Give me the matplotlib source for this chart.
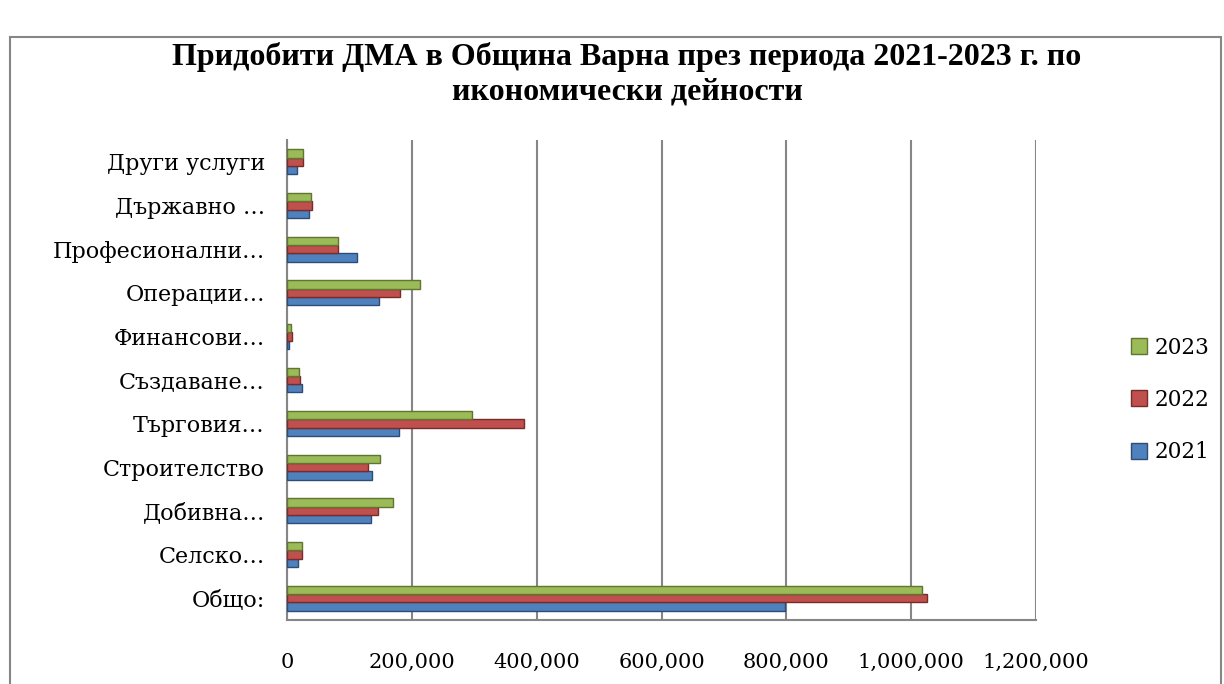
import numpy as np
import matplotlib.pyplot as plt
from matplotlib.patches import Rectangle
from matplotlib.lines import Line2D

categories = ['Общо:', 'Селско…', 'Добивна…', 'Строителство', 'Търговия…',
              'Създаване…', 'Финансови…', 'Операции…', 'Професионални…',
              'Държавно …', 'Други услуги']
v2021 = [797600, 17000, 134200, 135800, 179000, 23500, 3700, 147000, 111800, 34800, 15500]
v2022 = [1026000, 23500, 145400, 129400, 380000, 20300, 7500, 180700, 81000, 39500, 26000]
v2023 = [1017000, 23500, 169500, 148600, 296000, 18700, 6000, 212800, 81000, 39000, 26000]
xticks = [0, 200000, 400000, 600000, 800000, 1000000, 1200000]

blue, red, green = '#4F81BD', '#C0504D', '#9BBB59'
dark = {'b': '#2C4D75', 'r': '#772C2A', 'g': '#5F7530'}
label_font = ['DejaVu Serif']
title_font = ['Liberation Serif', 'DejaVu Serif']

fig = plt.figure(figsize=(12.24, 6.84), dpi=100)
fig.patches.append(Rectangle((10 / 1224, -0.05), 1211 / 1224, 1 - 37 / 684 + 0.05,
                             transform=fig.transFigure, fill=False,
                             edgecolor='#868686', linewidth=1.5))
ax = fig.add_axes([287 / 1224, 1 - 620 / 684, (1036 - 287) / 1224, 480 / 684])

y = np.arange(len(categories))
h = 0.19
ax.barh(y - h, v2021, height=h, color=blue, edgecolor=dark['b'], linewidth=1, label='2021', zorder=3)
ax.barh(y, v2022, height=h, color=red, edgecolor=dark['r'], linewidth=1, label='2022', zorder=3)
ax.barh(y + h, v2023, height=h, color=green, edgecolor=dark['g'], linewidth=1, label='2023', zorder=3)

ax.set_ylim(-0.5, len(categories) - 0.5)
ax.set_xlim(0, 1200000)
ax.set_yticks(y)
ax.set_yticklabels(categories, family=label_font, fontsize=16)
ax.set_xticks(xticks)
ax.set_xticklabels([f'{t:,}' for t in xticks], family=label_font, fontsize=15)
ax.tick_params(axis='x', length=0, pad=24)
ax.tick_params(axis='y', length=0, pad=16)
ax.grid(axis='x', color='#868686', linewidth=1.5, zorder=0)
for s in ['top', 'right']:
    ax.spines[s].set_visible(False)
for s in ['left', 'bottom']:
    ax.spines[s].set_color('#868686')
    ax.spines[s].set_linewidth(1.5)

fig.text(627 / 1224, 1 - 74 / 684, 'Придобити ДМА в Община Варна през периода 2021-2023 г. по\nикономически дейности',
         ha='center', va='center', family=title_font, fontsize=23, fontweight='bold', linespacing=1.25)

handles = [Line2D([], [], marker='s', linestyle='', markersize=12, markerfacecolor=c,
                  markeredgecolor=e) for c, e in [(green, dark['g']), (red, dark['r']), (blue, dark['b'])]]
fig.legend(handles, ['2023', '2022', '2021'], loc='center left',
           bbox_to_anchor=(1120 / 1224, 1 - 400 / 684), frameon=False,
           prop={'family': label_font, 'size': 15.5}, labelspacing=1.4, handletextpad=0.2,
           handlelength=1.0, borderaxespad=0)

fig.savefig('out.png', dpi=100)
